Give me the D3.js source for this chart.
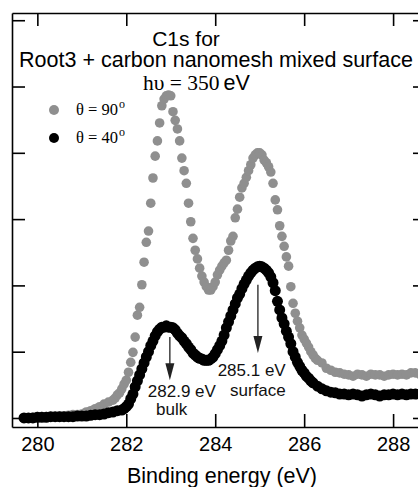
<!DOCTYPE html>
<html>
<head>
<meta charset="utf-8">
<title>C1s spectrum</title>
<script src="https://cdn.jsdelivr.net/npm/d3@7"></script>
<style>
  body { margin: 0; background: #fff; }
  text { font-family: "Liberation Sans", Arial, Helvetica, sans-serif; }
  .serif { font-family: "Liberation Serif", "Times New Roman", serif; }
</style>
</head>
<body>
<svg id="chart"></svg>
<script>
// binding energy (eV) and intensity (arb. units)
const energy90 = [279.70,279.80,279.90,280.00,280.10,280.20,280.30,280.40,280.50,280.60,280.70,280.80,280.90,281.00,281.10,281.20,281.30,281.40,281.50,281.60,281.70,281.75,281.80,281.85,281.90,281.95,282.00,282.05,282.10,282.15,282.20,282.25,282.30,282.35,282.40,282.45,282.50,282.55,282.60,282.65,282.70,282.75,282.80,282.85,282.90,282.95,283.00,283.05,283.10,283.15,283.20,283.25,283.30,283.35,283.40,283.45,283.50,283.55,283.60,283.65,283.70,283.75,283.80,283.85,283.90,283.95,284.00,284.05,284.10,284.15,284.20,284.25,284.30,284.35,284.40,284.45,284.50,284.55,284.60,284.65,284.70,284.75,284.80,284.85,284.90,284.95,285.00,285.05,285.10,285.15,285.20,285.25,285.30,285.35,285.40,285.45,285.50,285.55,285.60,285.65,285.70,285.75,285.80,285.85,285.90,285.95,286.00,286.05,286.10,286.15,286.20,286.25,286.30,286.40,286.50,286.60,286.70,286.80,286.90,287.00,287.10,287.20,287.30,287.40,287.50,287.60,287.70,287.80,287.90,288.00,288.10,288.20,288.30,288.40,288.50,288.60];
const intensity90 = [0.00,0.00,0.01,0.02,0.02,0.02,0.02,0.02,0.03,0.03,0.04,0.05,0.05,0.06,0.09,0.11,0.14,0.17,0.21,0.24,0.27,0.30,0.35,0.38,0.44,0.51,0.57,0.69,0.84,0.99,1.22,1.55,1.67,2.01,2.35,2.65,2.82,3.24,3.62,3.95,4.18,4.45,4.71,4.81,4.86,4.87,4.86,4.62,4.49,4.36,4.18,3.92,3.73,3.54,3.24,2.96,2.71,2.53,2.40,2.26,2.14,2.05,1.98,1.93,1.93,1.98,2.05,2.16,2.23,2.29,2.34,2.38,2.53,2.67,2.74,3.02,3.15,3.33,3.47,3.54,3.63,3.73,3.82,3.92,3.97,4.00,4.00,3.97,3.89,3.85,3.79,3.71,3.54,3.29,3.14,2.90,2.74,2.59,2.43,2.29,1.98,1.73,1.58,1.46,1.36,1.25,1.19,1.13,1.07,1.00,0.95,0.90,0.87,0.83,0.75,0.72,0.69,0.68,0.66,0.65,0.63,0.66,0.65,0.63,0.66,0.65,0.65,0.63,0.65,0.66,0.65,0.66,0.65,0.68,0.68,0.66];

const energy40 = [279.70,279.80,279.90,280.00,280.10,280.20,280.30,280.40,280.50,280.60,280.70,280.80,280.90,281.00,281.10,281.20,281.30,281.40,281.50,281.60,281.70,281.80,281.90,281.95,282.00,282.05,282.10,282.15,282.20,282.25,282.30,282.35,282.40,282.45,282.50,282.55,282.60,282.65,282.70,282.75,282.80,282.85,282.90,282.95,283.00,283.05,283.10,283.15,283.20,283.25,283.30,283.35,283.40,283.45,283.50,283.55,283.60,283.65,283.70,283.75,283.80,283.85,283.90,283.95,284.00,284.05,284.10,284.15,284.20,284.25,284.30,284.35,284.40,284.45,284.50,284.55,284.60,284.65,284.70,284.75,284.80,284.85,284.90,284.95,285.00,285.05,285.10,285.15,285.20,285.25,285.30,285.35,285.40,285.45,285.50,285.55,285.60,285.65,285.70,285.75,285.80,285.85,285.90,285.95,286.00,286.05,286.10,286.15,286.20,286.30,286.40,286.50,286.60,286.70,286.80,286.90,287.00,287.10,287.20,287.30,287.40,287.50,287.60,287.70,287.80,287.90,288.00,288.10,288.20,288.30,288.40,288.50,288.60];
const intensity40 = [0.00,0.00,0.00,0.01,0.01,0.01,0.02,0.02,0.02,0.02,0.02,0.02,0.03,0.03,0.03,0.04,0.05,0.05,0.06,0.08,0.09,0.11,0.12,0.14,0.17,0.21,0.29,0.36,0.47,0.56,0.65,0.74,0.83,0.92,1.00,1.09,1.16,1.24,1.30,1.34,1.37,1.37,1.39,1.37,1.37,1.36,1.33,1.28,1.24,1.21,1.16,1.12,1.07,1.03,0.98,0.95,0.92,0.90,0.89,0.87,0.87,0.87,0.89,0.92,0.97,1.03,1.09,1.16,1.25,1.36,1.45,1.54,1.63,1.72,1.81,1.87,1.95,2.02,2.08,2.14,2.19,2.23,2.26,2.28,2.29,2.28,2.26,2.23,2.19,2.13,2.04,1.92,1.76,1.63,1.51,1.42,1.31,1.22,1.12,1.00,0.92,0.84,0.78,0.72,0.68,0.63,0.60,0.56,0.53,0.48,0.44,0.41,0.39,0.38,0.36,0.36,0.35,0.36,0.35,0.33,0.35,0.36,0.35,0.33,0.35,0.35,0.36,0.35,0.36,0.35,0.36,0.36,0.36];

const xTicks = [280, 282, 284, 286, 288];
const yTicks = [0, 1, 2, 3, 4, 5, 6];

const titleLines = ["C1s for", "Root3 + carbon nanomesh mixed surface"];
const legendLabels = ["90", "40"];
const arrowEnergy = [282.98, 284.96];
const arrowFrom = [1.22, 2.01];
const arrowTo = [0.57, 0.98];
const peakLabels = [["282.9 eV", "bulk"], ["285.1 eV", "surface"]];

// layout
const W = 418, H = 487;
const margin = { top: 13, left: 12 };
const plotW = 414, plotH = 414;
const tick = 13;
const grey = "#8f8f8f";

const svg = d3.select("#chart").attr("width", W).attr("height", H);
const g = svg.append("g").attr("transform", `translate(${margin.left},${margin.top})`);

const x = d3.scaleLinear().domain([279.43, 288.74]).range([0, plotW]);
const y = d3.scaleLinear().domain([-0.136, 6.109]).range([plotH, 0]);

// dots: grey first, black on top
const s90 = energy90.map((e, i) => ({ e: e, v: intensity90[i] }));
const s40 = energy40.map((e, i) => ({ e: e, v: intensity40[i] }));

g.append("g").selectAll("circle").data(s90).enter().append("circle")
  .attr("cx", d => x(d.e)).attr("cy", d => y(d.v)).attr("r", 4.8)
  .attr("fill", grey);

g.append("g").selectAll("circle").data(s40).enter().append("circle")
  .attr("cx", d => x(d.e)).attr("cy", d => y(d.v)).attr("r", 5.5)
  .attr("fill", "#000");

// axes with inward ticks on all four sides
const axB = g.append("g").attr("transform", `translate(0,${plotH})`)
  .call(d3.axisBottom(x).tickValues(xTicks).tickSizeInner(-tick).tickSizeOuter(0).tickPadding(10).tickFormat(d3.format("d")));
g.append("g")
  .call(d3.axisTop(x).tickValues(xTicks).tickSizeInner(-tick).tickSizeOuter(0).tickFormat(""));
g.append("g")
  .call(d3.axisLeft(y).tickValues(yTicks).tickSizeInner(-tick).tickSizeOuter(0).tickFormat(""));
g.append("g").attr("transform", `translate(${plotW},0)`)
  .call(d3.axisRight(y).tickValues(yTicks).tickSizeInner(-tick).tickSizeOuter(0).tickFormat(""));

g.selectAll(".domain").attr("stroke", "#000").attr("stroke-width", 1.6);
g.selectAll(".tick line").attr("stroke", "#000").attr("stroke-width", 1.6);
axB.selectAll("text").attr("font-size", 20).attr("fill", "#000")
  .attr("font-family", "Liberation Sans, Arial, sans-serif");

// axis title
svg.append("text").attr("x", 222).attr("y", 483).attr("text-anchor", "middle")
  .attr("font-size", 21.5).text("Binding energy (eV)");

// title
svg.append("text").attr("x", 186).attr("y", 46).attr("text-anchor", "middle")
  .attr("font-size", 21).text(titleLines[0]);
svg.append("text").attr("x", 216).attr("y", 67).attr("text-anchor", "middle")
  .attr("font-size", 21.5).text(titleLines[1]);
const hv = svg.append("text").attr("x", 143).attr("y", 90).attr("font-size", 21.5);
hv.append("tspan").attr("class", "serif").text("h\u03C5 = 350");
hv.append("tspan").attr("dx", 4).text("eV");

// legend
const legend = svg.append("g");
legendLabels.forEach((lab, i) => {
  const ly = 110 + i * 28;
  legend.append("circle").attr("cx", 54).attr("cy", ly).attr("r", 5)
    .attr("fill", i === 0 ? grey : "#000");
  const t = legend.append("text").attr("class", "serif").attr("x", 76).attr("y", ly + 4.5)
    .attr("font-size", 16.5);
  t.append("tspan").text("\u03B8 = " + lab);
  t.append("tspan").attr("dx", 1).attr("dy", -7).attr("font-size", 12).text("o");
});

// arrows and peak labels
arrowEnergy.forEach((e, i) => {
  const ax = x(e), y0 = y(arrowFrom[i]), y1 = y(arrowTo[i]);
  g.append("line").attr("x1", ax).attr("x2", ax).attr("y1", y0).attr("y2", y1 - 10)
    .attr("stroke", "#222").attr("stroke-width", 1.3);
  g.append("path")
    .attr("d", `M${ax - 4.5},${y1 - 17}L${ax + 4.5},${y1 - 17}L${ax},${y1}Z`)
    .attr("fill", "#222");
});

const labelPos = [[[283.25, 0.32], [283.02, 0.05]], [[284.82, 0.63], [284.96, 0.33]]];
peakLabels.forEach((lines, i) => {
  lines.forEach((txt, j) => {
    g.append("text").attr("x", x(labelPos[i][j][0])).attr("y", y(labelPos[i][j][1]))
      .attr("text-anchor", "middle").attr("font-size", 17).attr("fill", "#111").text(txt);
  });
});
</script>
</body>
</html>
